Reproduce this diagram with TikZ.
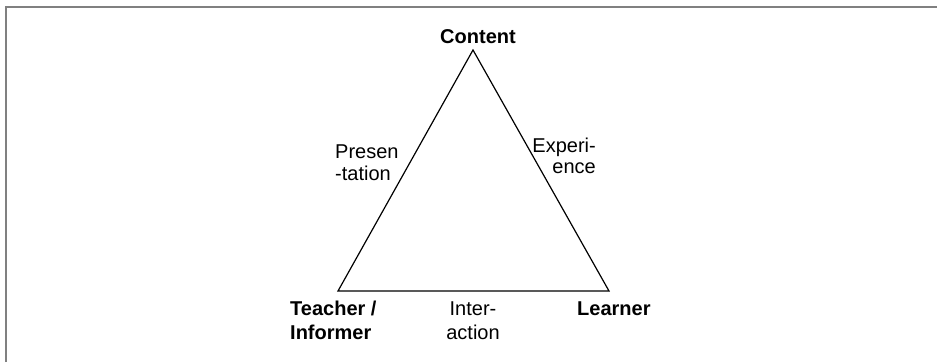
\documentclass[tikz,border=0pt]{standalone}
\usepackage{fontspec}
\setmainfont{Liberation Sans}
\usepackage{tikz}
\usetikzlibrary{positioning}

\begin{document}
\begin{tikzpicture}[x=1pt,y=-1pt,
	corner/.style={font=\fontsize{20}{24}\selectfont\bfseries,inner sep=0pt},
	side/.style={font=\fontsize{20}{22}\selectfont,inner sep=0pt},
	edge/.style={black,line width=1.2pt,line join=miter}]
	\useasboundingbox (0,0) rectangle (937,362);
	\draw[gray,line width=2pt] (5.5,362) -- (5.5,6.5) -- (937,6.5);
	\coordinate (top) at (473,50);
	\coordinate (tl) at (338,291);
	\coordinate (lr) at (609,291);
	\draw[edge] (top) -- (tl) -- (lr) -- cycle;
	% base anchor sits on the last line
	\node[corner,anchor=base] (content) at (478,43) {Content};
	\node[corner,anchor=base west,align=left] (teacher) at (290,339) {Teacher /\\Informer};
	\node[corner,anchor=base west] (learner) at (577,315) {Learner};
	\node[side,font=\fontsize{20}{24}\selectfont,anchor=base,align=center] (inter) at (473,339) {Inter-\\action};
	\node[side,anchor=base west,align=left] (pres) at (335,180) {Presen\\-tation};
	\node[side,font=\fontsize{20}{21}\selectfont,anchor=base east,align=right] (exp) at (596,173) {Experi-\\ence};
\end{tikzpicture}
\end{document}
